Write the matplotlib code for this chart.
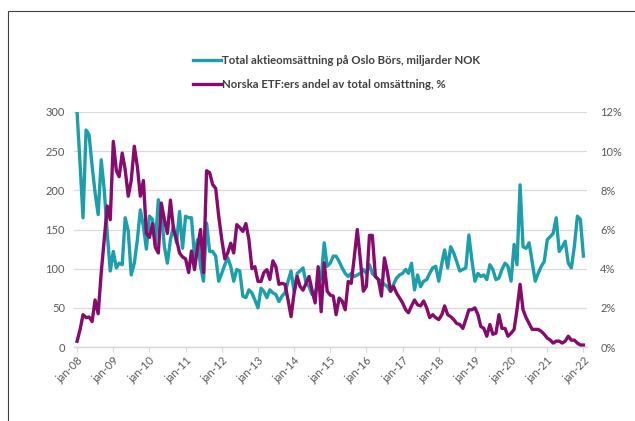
import matplotlib

matplotlib.use("Agg")
import matplotlib.pyplot as plt
import matplotlib.ticker as mticker
from matplotlib.lines import Line2D
from matplotlib.patches import Rectangle
import numpy as np
import pandas as pd

# monthly values jan-08 .. jan-22 (one row per year)
turnover = [
    300, 232, 165, 277, 271, 231, 197, 169, 239, 201, 145, 97,   # 2008
    122, 101, 107, 105, 165, 148, 92, 107, 137, 175, 154, 125,   # 2009
    167, 163, 131, 188, 171, 128, 107, 137, 154, 133, 173, 126,  # 2010
    167, 165, 165, 116, 137, 103, 84, 158, 122, 122, 116, 84,    # 2011
    94, 105, 114, 103, 84, 99, 97, 65, 63, 73, 69, 60,           # 2012
    50, 75, 71, 63, 73, 69, 67, 58, 65, 69, 84, 97,              # 2013
    71, 94, 97, 101, 82, 77, 67, 69, 82, 88, 133, 103,           # 2014
    107, 116, 116, 109, 101, 94, 90, 94, 90, 92, 94, 99,         # 2015
    94, 105, 94, 90, 86, 84, 80, 77, 71, 80, 88, 92,             # 2016
    94, 99, 94, 107, 73, 92, 77, 84, 86, 94, 101, 103,           # 2017
    84, 107, 124, 101, 128, 120, 109, 97, 99, 101, 143, 111,     # 2018
    84, 94, 90, 92, 86, 105, 99, 86, 88, 99, 107, 103,           # 2019
    84, 131, 105, 207, 128, 126, 133, 109, 84, 94, 103, 109,     # 2020
    137, 141, 145, 165, 122, 128, 135, 107, 101, 128, 167, 163,  # 2021
    116,                                                         # 2022
]

etf_share = [
    0.29, 0.9, 1.65, 1.5, 1.53, 1.3, 2.4, 1.7, 3.8, 5.5, 7.2, 6.5,
    10.5, 9.0, 8.7, 9.9, 9.05, 7.7, 8.5, 10.25, 9.2, 7.7, 8.5, 5.8,
    5.6, 6.3, 5.1, 4.8, 7.35, 6.5, 5.8, 7.5, 6.0, 5.5, 4.8, 4.6,
    4.5, 3.8, 4.9, 3.95, 5.05, 6.0, 3.8, 9.0, 8.9, 8.3, 8.1, 6.7,
    5.5, 4.5, 4.8, 5.3, 4.8, 6.25, 6.1, 5.9, 6.3, 5.5, 4.0, 4.1,
    3.35, 3.35, 3.8, 3.95, 3.45, 4.4, 4.1, 3.2, 3.25, 3.2, 2.4, 1.55,
    2.75, 3.6, 3.1, 2.9, 3.25, 3.6, 2.9, 2.25, 4.1, 1.8, 4.3, 2.85,
    2.65, 2.6, 1.65, 2.5, 2.35, 1.9, 3.35, 3.25, 4.6, 6.0, 4.45, 2.85,
    3.1, 5.7, 5.7, 3.6, 3.45, 2.6, 4.55, 3.8, 2.85, 3.1, 2.75, 2.5,
    2.25, 1.9, 1.75, 2.1, 2.4, 2.15, 2.1, 2.35, 2.0, 1.5, 1.65, 1.5,
    1.4, 1.65, 2.1, 1.65, 1.55, 1.4, 1.2, 1.15, 0.95, 1.4, 1.9, 1.9,
    2.0, 1.65, 1.05, 0.95, 0.55, 1.15, 0.65, 0.7, 1.65, 0.95, 0.95, 0.55,
    0.7, 0.9, 1.9, 3.2, 1.9, 1.5, 1.2, 0.9, 0.9, 0.9, 0.8, 0.65,
    0.45, 0.35, 0.2, 0.3, 0.3, 0.2, 0.3, 0.55, 0.35, 0.35, 0.2, 0.1,
    0.1,
]

label_turnover = "Total aktieomsättning på Oslo Börs, miljarder NOK"
label_etf = "Norska ETF:ers andel av total omsättning, %"

TEAL = "#1c9fab"
PURPLE = "#850c6d"
GRID = "#d9d9d9"
TXT = "#595959"

dates = pd.date_range("2008-01-01", periods=len(turnover), freq="MS")
year_ticks = pd.date_range("2008-01-01", "2022-01-01", freq="YS")

plt.rcParams["font.family"] = ["Lato", "DejaVu Sans"]

fig = plt.figure(figsize=(6.35, 4.21), dpi=100)
ax = fig.add_axes([74 / 635, 74 / 421, 513 / 635, 235 / 421])
ax2 = ax.twinx()

ax.plot(dates, turnover, color=TEAL, linewidth=2.4, solid_joinstyle="round")
ax2.plot(dates, np.array(etf_share) / 100.0, color=PURPLE, linewidth=2.4, solid_joinstyle="round")

ax.set_ylim(0, 300)
ax.set_yticks(np.arange(0, 301, 50))
ax2.set_ylim(0, 0.12)
ax2.set_yticks(np.arange(0, 0.121, 0.02))
ax2.yaxis.set_major_formatter(mticker.PercentFormatter(1.0, decimals=0))

ax.set_xlim(pd.Timestamp("2007-12-01"), pd.Timestamp("2022-02-06"))
ax.set_xticks(year_ticks)
ax.set_xticklabels([f"jan-{d:%y}" for d in year_ticks], rotation=45,
                   ha="right", va="top", rotation_mode="anchor")

ax.grid(axis="y", color=GRID, linewidth=0.9)
ax.set_axisbelow(True)
for a in (ax, ax2):
    for side in ("top", "left", "right"):
        a.spines[side].set_visible(False)
    a.spines["bottom"].set_color(GRID)
    a.spines["bottom"].set_linewidth(0.9)
ax.tick_params(axis="y", length=0, pad=6.5, labelsize=8, labelcolor=TXT)
ax2.tick_params(axis="y", length=0, pad=9.5, labelsize=8, labelcolor=TXT)
ax.tick_params(axis="x", length=3.5, width=0.9, color=GRID, pad=2, labelsize=8, labelcolor=TXT)

handles = [Line2D([], [], color=TEAL, linewidth=2.4), Line2D([], [], color=PURPLE, linewidth=2.4)]
fig.legend(handles, [label_turnover, label_etf], loc="center left",
           bbox_to_anchor=(192.7 / 635, 1 - 72.5 / 421), frameon=False,
           borderpad=0, borderaxespad=0, handlelength=2.5, handletextpad=0.1,
           labelspacing=1.2, labelcolor="#404040",
           prop={"family": ["Lato", "DejaVu Sans"], "weight": "bold", "size": 8.2})

# outer frame (only top and left edges are visible in the crop)
fig.patches.append(Rectangle((8 / 635, -0.05), 1.1, 1.05 - 11 / 421, transform=fig.transFigure,
                             fill=False, edgecolor="#404040", linewidth=0.8))

fig.savefig("out.png", dpi=100)
